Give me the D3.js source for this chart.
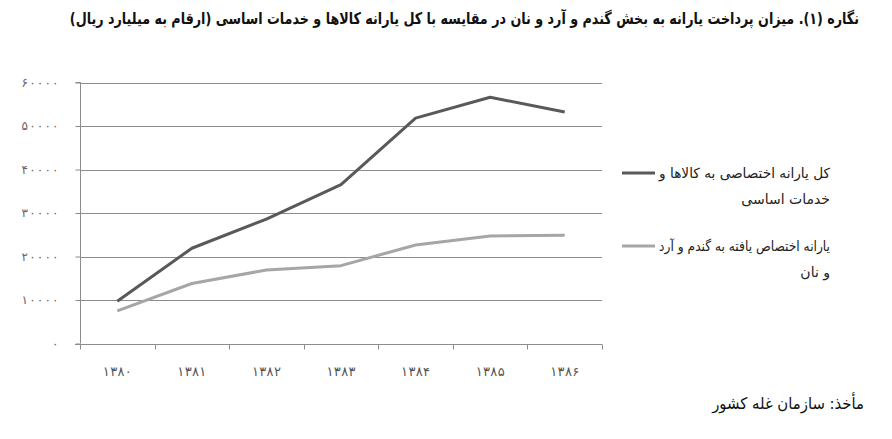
<!DOCTYPE html>
<html><head><meta charset="utf-8">
<script src="https://cdn.jsdelivr.net/npm/d3@7"></script>
<style>
body{margin:0;background:#fff;}
svg{display:block;}
.fa{font-family:"DejaVu Sans","Noto Sans",sans-serif;}
</style></head>
<body><svg id="c" width="892" height="439"></svg>
<script>
const years = ["1380","1381","1382","1383","1384","1385","1386"];
const totalSubsidy = [9700, 21900, 28600, 36500, 51800, 56600, 53200];
const wheatSubsidy = [7500, 13800, 16900, 17900, 22650, 24700, 24900];
const yTicks = [0, 10000, 20000, 30000, 40000, 50000, 60000];
const seriesNames = ["کل یارانه اختصاصی به کالاها و|خدمات اساسی", "یارانه اختصاص یافته به گندم و آرد|و نان"];
const titleText = "نگاره (۱). میزان پرداخت یارانه به بخش گندم و آرد و نان در مقایسه با کل یارانه کالاها و خدمات اساسی (ارقام به میلیارد ریال)";
const sourceText = "مأخذ: سازمان غله کشور";

const fa = s => String(s).replace(/[0-9]/g, d => "۰۱۲۳۴۵۶۷۸۹"[+d]);
const svg = d3.select("#c");
const x = d3.scaleBand().domain(years).range([80, 602]);
const y = d3.scaleLinear().domain([0, 60000]).range([343.5, 82.5]);

// right-anchored RTL text, horizontally condensed (via transform) to at most maxW
function rtlText(t, xr, yb, fs, maxW, opts={}){
  const g = svg.append("g").attr("transform", `translate(${xr},${yb})`);
  const tx = g.append("text").attr("class","fa").attr("x",0).attr("y",0)
    .attr("font-size",fs).attr("fill",opts.fill||"#111")
    .attr("font-weight",opts.bold?"bold":"normal")
    .style("direction","rtl").attr("text-anchor","start").text(t);
  const L = tx.node().getComputedTextLength();
  if (L > maxW) g.attr("transform", `translate(${xr},${yb}) scale(${maxW/L},1)`);
  return tx;
}

// gridlines
svg.append("g").selectAll("line").data(yTicks.slice(1)).join("line")
  .attr("x1", 80).attr("x2", 602).attr("y1", d=>Math.round(y(d))+0.5).attr("y2", d=>Math.round(y(d))+0.5)
  .attr("stroke", "#8c8c8c").attr("stroke-width", 1);

// y axis
const ya = svg.append("g").attr("transform","translate(80.5,0)")
  .call(d3.axisLeft(y).tickValues(yTicks).tickSize(5).tickPadding(17).tickFormat(d=>fa(d)));
ya.select(".domain").attr("stroke","#8c8c8c").attr("d", `M-5,${y(60000)}H0V${y(0)}`);
ya.selectAll(".tick line").attr("stroke","#8c8c8c");
ya.selectAll(".tick text").attr("class","fa").attr("font-size",12).attr("fill","#666")
  .each(function(d){ if (d>0) d3.select(this).attr("textLength",37).attr("lengthAdjust","spacing"); });

// x axis
const xa = svg.append("g").attr("transform",`translate(0,${Math.round(y(0))+0.5})`)
  .call(d3.axisBottom(x).tickSize(0).tickPadding(22).tickFormat(d=>fa(d)));
xa.select(".domain").attr("stroke","#8c8c8c").attr("d","M75,0H602");
xa.selectAll(".tick text").attr("class","fa").attr("font-size",13).attr("fill","#555")
  .attr("textLength",29).attr("lengthAdjust","spacing");
const bounds = years.map(d=>x(d)).concat([x.range()[1]]);
svg.append("g").selectAll("line").data(bounds).join("line")
  .attr("x1", d=>Math.round(d)+0.5).attr("x2", d=>Math.round(d)+0.5)
  .attr("y1", Math.round(y(0))+0.5).attr("y2", Math.round(y(0))+5.5)
  .attr("stroke","#8c8c8c");

// lines
const line = d3.line().x((d,i)=>x(years[i])+x.bandwidth()/2).y(d=>y(d));
const colors = ["#595959", "#a6a6a6"];
[totalSubsidy, wheatSubsidy].forEach((s,i)=>{
  svg.append("path").datum(s).attr("d", line).attr("fill","none")
    .attr("stroke", colors[i]).attr("stroke-width", 3).attr("stroke-linejoin","round");
});

// legend
const legY = [173, 246];
seriesNames.forEach((n,i)=>{
  svg.append("line").attr("x1",622).attr("x2",655).attr("y1",legY[i]).attr("y2",legY[i])
    .attr("stroke",colors[i]).attr("stroke-width",3);
  n.split("|").forEach((t,j)=>{
    rtlText(t, 830, legY[i]+5+j*26, 14, 171, {fill:"#222"});
  });
});

// title
rtlText(titleText, 859, 24, 16, 790, {bold:true});

// source
rtlText(sourceText, 864, 409, 16, 152);
</script></body></html>
